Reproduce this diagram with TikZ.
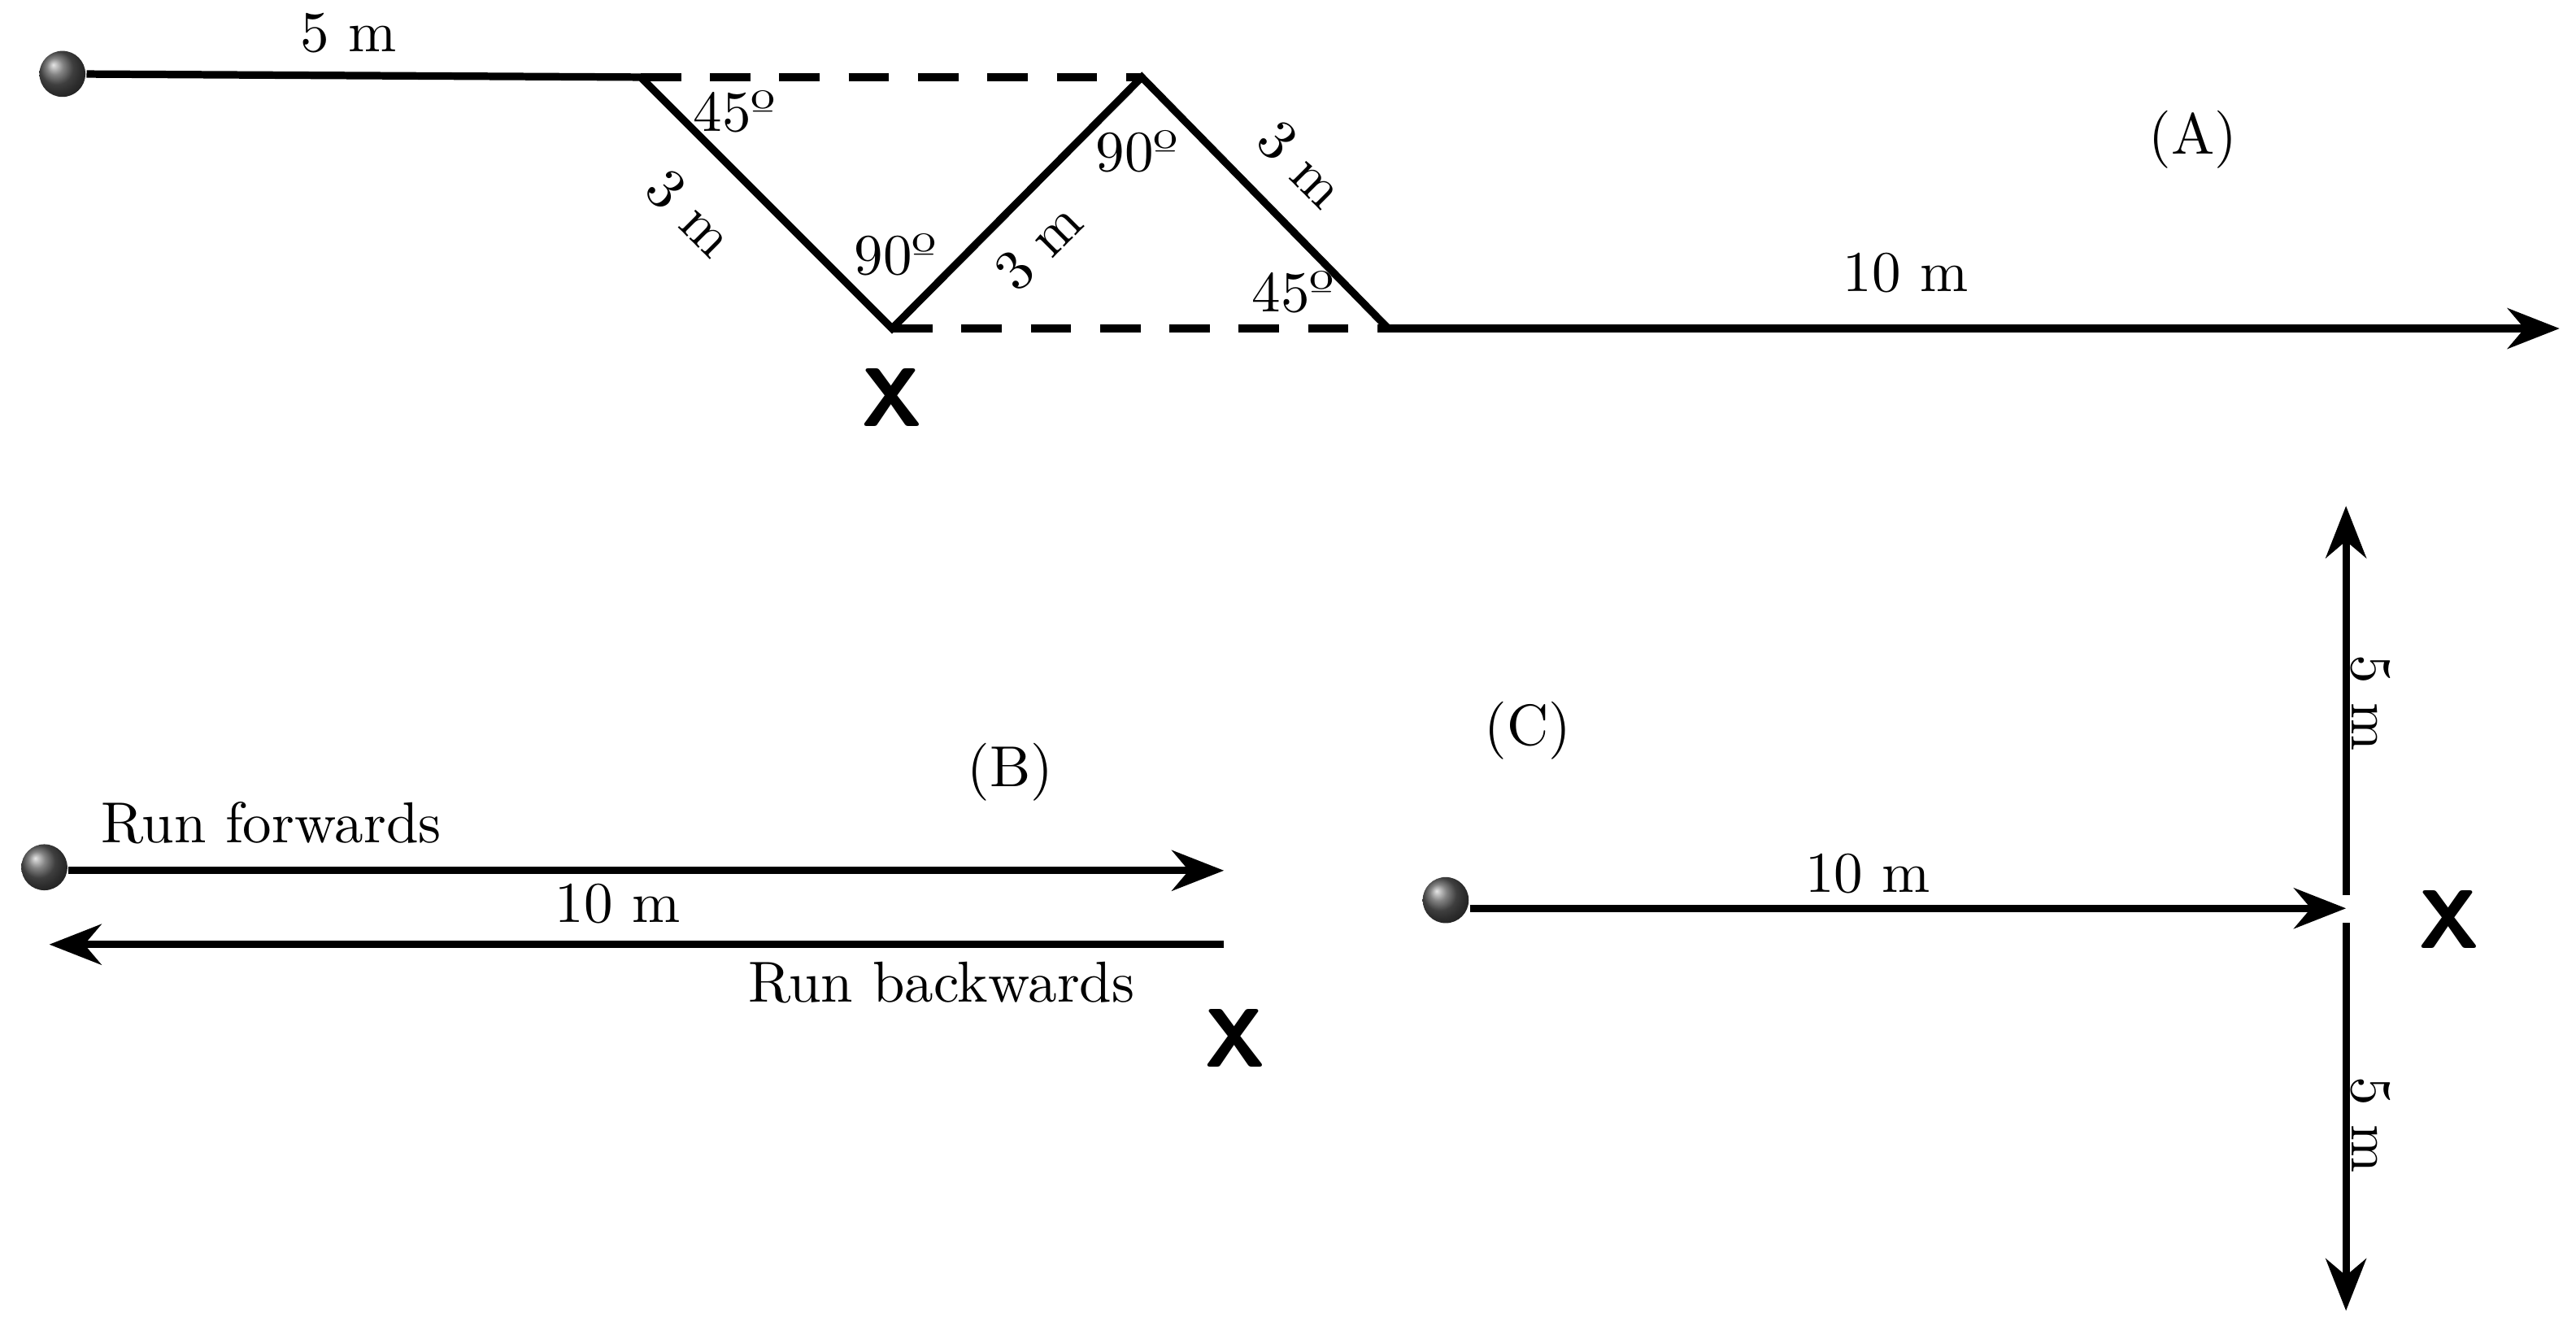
\documentclass[tikz,border=0pt]{standalone}
\usetikzlibrary{arrows.meta}
\begin{document}
\begin{tikzpicture}[x=0.01cm,y=-0.01cm,
  ln/.style={line width=1.3pt},
  ar/.style={ln,-{Stealth[length=9pt,width=7pt]}},
  dsh/.style={ln,dash pattern=on 7pt off 5pt},
  ball/.style={circle,minimum size=0.28cm,inner sep=0pt,ball color=black!65},
  lb/.style={font=\fontsize{10}{12}\selectfont,inner sep=1pt},
  bx/.style={font=\sffamily\bfseries\Large}]
\useasboundingbox (0,0) rectangle (1568,807);
% (A)
\node[ball] (ba) at (38,45) {};
\coordinate (a1) at (390,47);
\coordinate (a2) at (695,47);
\coordinate (a3) at (543,200);
\coordinate (a4) at (845,200);
\coordinate (a5) at (1558,200);
\draw[ln] (ba) -- (a1) -- (a3) -- (a2) -- (a4);
\draw[ar] (a4) -- (a5);
\draw[dsh] (a1) -- (a2);
\draw[dsh] (a3) -- (a4);
\node[lb] (t1) at (212,20) {5 m};
\node[lb] (t2) at (447,68) {45º};
\node[lb,rotate=-45] (t3) at (420,130) {3 m};
\node[lb] (t4) at (545,155) {90º};
\node[lb,rotate=45] (t5) at (632,150) {3 m};
\node[lb] (t6) at (692,92) {90º};
\node[lb,rotate=-45] (t7) at (792,100) {3 m};
\node[lb] (t8) at (787,178) {45º};
\node[lb] (t9) at (1160,166) {10 m};
\node[lb] (t10) at (1335,85) {(A)};
\node[bx] (xa) at (543,242) {X};
% (B)
\node[ball] (bb) at (27,528) {};
\coordinate (b1) at (745,530);
\coordinate (b2) at (745,575);
\coordinate (b3) at (30,575);
\draw[ar] (bb.east) ++(0,2) coordinate (b0) (b0) -- (b1);
\draw[ar] (b2) -- (b3);
\node[lb] (u1) at (165,501) {Run forwards};
\node[lb] (u2) at (376,550) {10 m};
\node[lb] (u3) at (573,598) {Run backwards};
\node[bx] (xb) at (752,632) {X};
\node[lb] (u4) at (615,470) {(B)};
% (C)
\node[ball] (bc) at (880,548) {};
\coordinate (c1) at (1428,553);
\coordinate (c2) at (1428,545);
\coordinate (c3) at (1428,308);
\coordinate (c4) at (1428,562);
\coordinate (c5) at (1428,798);
\draw[ar] (bc.east) ++(0,5) coordinate (c0) (c0) -- (c1);
\draw[ar] (c2) -- (c3);
\draw[ar] (c4) -- (c5);
\node[lb,rotate=-90] (v1) at (1443,428) {5 m};
\node[lb,rotate=-90] (v2) at (1443,685) {5 m};
\node[bx] (xc) at (1491,560) {X};
\node[lb] (v3) at (930,445) {(C)};
\node[lb] (v4) at (1137,532) {10 m};
\end{tikzpicture}
\end{document}
